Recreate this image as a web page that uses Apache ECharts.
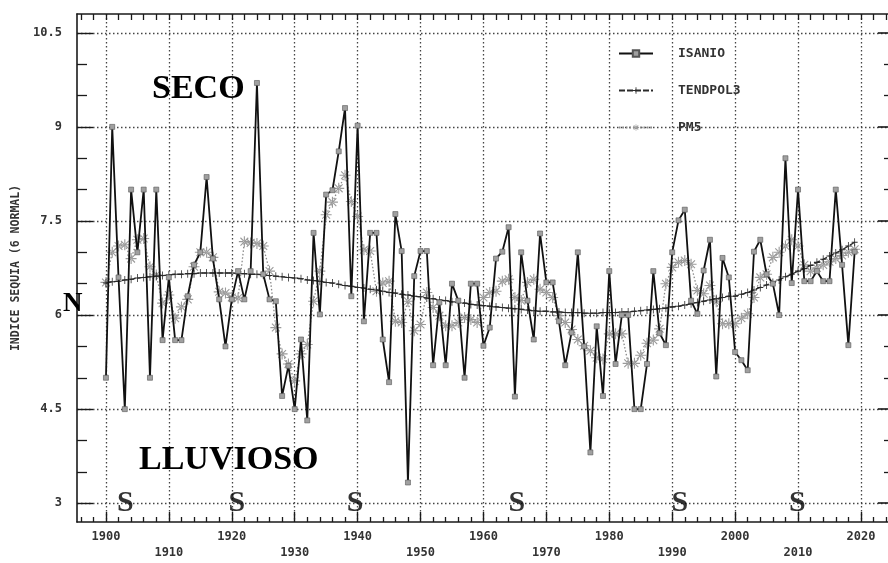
<!DOCTYPE html>
<html>
<head>
<meta charset="utf-8">
<script src="https://cdn.jsdelivr.net/npm/echarts@6/dist/echarts.min.js"></script>
<style>
  html, body { margin: 0; padding: 0; background: #ffffff; }
  #chart { width: 888px; height: 563px; }
</style>
</head>
<body>
<div id="chart"></div>
<script>
// Annual drought index, 1900-2019
const firstYear = 1900;
const isanio = [
  5.0, 9.0, 6.6, 4.5, 8.0, 7.0, 8.0, 5.0, 8.0, 5.6,
  6.6, 5.6, 5.6, 6.3, 6.8, 7.0, 8.2, 6.9, 6.25, 5.5,
  6.25, 6.7, 6.25, 6.7, 9.7, 6.65, 6.25, 6.22, 4.71, 5.19,
  4.5, 5.61, 4.32, 7.31, 6.01, 7.92, 7.99, 8.61, 9.30, 6.30,
  9.02, 5.90, 7.31, 7.31, 5.61, 4.93, 7.61, 7.02, 3.33, 6.62,
  7.02, 7.02, 5.2, 6.2, 5.2, 6.5, 6.23, 5.0, 6.5, 6.5,
  5.51, 5.8, 6.9, 7.01, 7.4, 4.7, 7.0, 6.23, 5.61, 7.3,
  6.52, 6.52, 5.9, 5.2, 5.72, 7.0, 5.5, 3.81, 5.82, 4.71,
  6.7, 5.22, 6.0, 6.0, 4.5, 4.5, 5.22, 6.7, 5.71, 5.52,
  7.0, 7.51, 7.68, 6.23, 6.02, 6.71, 7.2, 5.02, 6.91, 6.6,
  5.41, 5.28, 5.12, 7.01, 7.2, 6.65, 6.5, 6.0, 8.5, 6.51,
  8.0, 6.54, 6.54, 6.7, 6.54, 6.54, 8.0, 6.8, 5.52, 7.01
];
// Third-degree polynomial trend
const tendpol3 = [
  6.51, 6.53, 6.54, 6.56, 6.57, 6.59, 6.60, 6.61, 6.62, 6.63,
  6.64, 6.65, 6.65, 6.66, 6.66, 6.67, 6.67, 6.67, 6.67, 6.67,
  6.67, 6.66, 6.66, 6.65, 6.65, 6.64, 6.63, 6.62, 6.61, 6.60,
  6.59, 6.58, 6.56, 6.55, 6.54, 6.52, 6.51, 6.49, 6.47, 6.46,
  6.44, 6.43, 6.41, 6.40, 6.38, 6.36, 6.35, 6.33, 6.32, 6.30,
  6.29, 6.27, 6.26, 6.24, 6.23, 6.21, 6.20, 6.19, 6.17, 6.16,
  6.15, 6.14, 6.13, 6.12, 6.11, 6.10, 6.09, 6.08, 6.07, 6.06,
  6.06, 6.05, 6.05, 6.04, 6.04, 6.04, 6.03, 6.03, 6.03, 6.04,
  6.04, 6.04, 6.05, 6.05, 6.06, 6.07, 6.08, 6.09, 6.10, 6.11,
  6.13, 6.14, 6.16, 6.18, 6.20, 6.22, 6.24, 6.26, 6.28, 6.30,
  6.30, 6.33, 6.36, 6.40, 6.44, 6.48, 6.52, 6.56, 6.61, 6.65,
  6.70, 6.74, 6.79, 6.84, 6.89, 6.94, 6.99, 7.04, 7.10, 7.16
];
// Five-year moving mean
const pm5 = [
  6.52, 7.0, 7.1, 7.12, 6.9, 7.2, 7.22, 6.77, 6.64, 6.19,
  6.32, 5.95, 6.13, 6.25, 6.77, 7.0, 7.0, 6.92, 6.37, 6.35,
  6.28, 6.27, 7.17, 7.15, 7.14, 7.1, 6.7, 5.8, 5.38, 5.22,
  4.95, 5.38, 5.53, 6.22, 6.7, 7.6, 7.8, 8.02, 8.23, 7.81,
  7.57, 7.04, 7.02, 6.38, 6.51, 6.54, 5.9, 5.88, 6.22, 5.75,
  5.85, 6.36, 6.12, 5.99, 5.83, 5.83, 5.88, 5.96, 5.93, 5.88,
  6.28, 6.36, 6.38, 6.54, 6.57, 6.28, 6.23, 6.52, 6.57, 6.41,
  6.36, 6.28, 5.99, 5.88, 5.77, 5.61, 5.51, 5.43, 5.32, 5.3,
  5.7, 5.7, 5.7, 5.23, 5.23, 5.36, 5.55, 5.6, 5.78, 6.5,
  6.76, 6.84, 6.87, 6.81, 6.39, 6.34, 6.47, 6.21, 5.86, 5.86,
  5.86, 5.95, 6.02, 6.28, 6.6, 6.65, 6.92, 7.0, 7.1, 7.2,
  7.1, 6.8, 6.7, 6.75, 6.8, 6.85, 6.9, 6.95, 7.0, 7.05
];
// Years flagged with "S" along the bottom
const sYears = [1903.1, 1920.8, 1939.6, 1965.3, 1991.2, 2009.9];
const sLevel = 3;

const seriesNames = ['ISANIO', 'TENDPOL3', 'PM5'];
const yMajor = [3, 4.5, 6, 7.5, 9, 10.5];
const yMinor = [3.5, 4, 5, 5.5, 6.5, 7, 8, 8.5, 9.5, 10];
const xMajor = [1900, 1910, 1920, 1930, 1940, 1950, 1960, 1970, 1980, 1990, 2000, 2010, 2020];
const xMinor = [];
for (let y = 1896; y <= 2024; y += 2) if (y % 10 !== 0) xMinor.push(y);
const xAll = xMinor.concat(xMajor).sort((a, b) => a - b);

const toPairs = arr => arr.map((v, i) => [firstYear + i, v]);

const monoFont = 'DejaVu Sans Mono';
const ink = '#1a1a1a';
const gridDots = { color: '#444', width: 1.3, type: [1.5, 2.5] };

const plusPath = 'path://M-1,-0.13L1,-0.13L1,0.13L-1,0.13Z M-0.13,-1L0.13,-1L0.13,1L-0.13,1Z';
const starPath = 'path://M-1,-0.1L1,-0.1L1,0.1L-1,0.1Z M-0.1,-1L0.1,-1L0.1,1L-0.1,1Z ' +
  'M-0.78,-0.64L0.64,0.78L0.78,0.64L-0.64,-0.78Z M0.64,-0.78L0.78,-0.64L-0.64,0.78L-0.78,0.64Z';

// the plot frame runs past the right edge of the page
const xRange = { min: 1895.4, max: 2024.3 };
const yRange = { min: 2.7, max: 10.8 };

const chart = echarts.init(document.getElementById('chart'), null, { renderer: 'canvas' });

chart.setOption({
  backgroundColor: '#ffffff',
  animation: false,
  grid: { left: 77, top: 14, width: 811, height: 508, containLabel: false },
  legend: {
    data: seriesNames,
    orient: 'vertical',
    left: 613,
    top: 42,
    itemWidth: 34,
    itemHeight: 8,
    itemGap: 24,
    textStyle: { fontFamily: monoFont, fontSize: 13, fontWeight: 'bold', color: '#333', padding: [0, 0, 0, 20] }
  },
  xAxis: [
    {
      type: 'value', position: 'bottom', ...xRange,
      axisLine: { show: true, lineStyle: { color: ink, width: 1.6 } },
      axisTick: { show: true, inside: true, length: 10, customValues: xMajor, lineStyle: { color: ink, width: 1.4 } },
      axisLabel: {
        show: true, customValues: xMajor, margin: 7,
        fontFamily: monoFont, fontSize: 12, fontWeight: 'bold', color: '#333', lineHeight: 16,
        formatter: v => (v % 20 === 0 ? String(v) : '\n' + v)
      },
      splitLine: { show: true, lineStyle: gridDots }
    },
    {
      type: 'value', position: 'bottom', ...xRange,
      axisLine: { show: false },
      axisTick: { show: true, inside: true, length: 5, customValues: xMinor, lineStyle: { color: ink, width: 1.3 } },
      axisLabel: { show: false },
      splitLine: { show: false }
    },
    {
      type: 'value', position: 'top', ...xRange,
      axisLine: { show: true, lineStyle: { color: ink, width: 1.6 } },
      axisTick: { show: true, inside: true, length: 6, customValues: xAll, lineStyle: { color: ink, width: 1.3 } },
      axisLabel: { show: false },
      splitLine: { show: false }
    }
  ],
  yAxis: [
    {
      type: 'value', position: 'left', ...yRange,
      name: 'INDICE SEQUIA (6 NORMAL)', nameLocation: 'middle', nameGap: 55, nameRotate: 90,
      nameTextStyle: { fontFamily: monoFont, fontSize: 11.5, fontWeight: 'bold', color: '#333' },
      axisLine: { show: true, lineStyle: { color: ink, width: 1.6 } },
      axisTick: { show: true, inside: true, length: 16, customValues: yMajor, lineStyle: { color: ink, width: 1.4 } },
      axisLabel: { show: true, customValues: yMajor, margin: 15, fontFamily: monoFont, fontSize: 12, fontWeight: 'bold', color: '#333' },
      splitLine: { show: true, lineStyle: gridDots }
    },
    {
      type: 'value', position: 'left', ...yRange,
      axisLine: { show: false },
      axisTick: { show: true, inside: true, length: 10, customValues: yMinor, lineStyle: { color: ink, width: 1.3 } },
      axisLabel: { show: false },
      splitLine: { show: false }
    },
    {
      type: 'value', position: 'right', ...yRange,
      axisLine: { show: false },
      axisTick: { show: true, inside: true, length: 10, customValues: yMajor, lineStyle: { color: ink, width: 1.6 } },
      axisLabel: { show: false },
      splitLine: { show: false }
    },
    {
      type: 'value', position: 'right', ...yRange,
      axisLine: { show: false },
      axisTick: { show: true, inside: true, length: 4, customValues: yMinor, lineStyle: { color: ink, width: 1.3 } },
      axisLabel: { show: false },
      splitLine: { show: false }
    }
  ],
  series: [
    {
      name: 'PM5', type: 'line', data: toPairs(pm5), z: 3,
      symbol: starPath, symbolSize: 11, showAllSymbol: true,
      lineStyle: { color: '#8a8a8a', width: 1.3, type: [1.5, 2] },
      itemStyle: { color: '#9a9a9a' }
    },
    {
      name: 'TENDPOL3', type: 'line', data: toPairs(tendpol3), z: 4,
      symbol: plusPath, symbolSize: [6, 8], showAllSymbol: true,
      lineStyle: { color: '#2a2a2a', width: 1.3, type: [6, 2] },
      itemStyle: { color: '#2a2a2a' }
    },
    {
      name: 'ISANIO', type: 'line', data: toPairs(isanio), z: 5,
      symbol: 'rect', symbolSize: 5, showAllSymbol: true,
      lineStyle: { color: '#111', width: 1.8 },
      itemStyle: { color: '#a0a0a0', borderColor: '#555', borderWidth: 0.6 }
    },
    {
      name: 'S', type: 'scatter', z: 6, silent: true,
      data: sYears.map(y => [y, sLevel]),
      symbolSize: 1, itemStyle: { color: 'rgba(0,0,0,0)' },
      label: {
        show: true, position: 'inside', formatter: 'S',
        fontFamily: 'Liberation Serif', fontWeight: 'bold', fontSize: 30, color: '#000'
      }
    }
  ],
  graphic: [
    { type: 'text', left: 152, top: 72, z: 10,
      style: { text: 'SECO', fontFamily: 'Liberation Serif', fontWeight: 'bold', fontSize: 34, fill: '#000' } },
    { type: 'text', left: 139, top: 443, z: 10,
      style: { text: 'LLUVIOSO', fontFamily: 'Liberation Serif', fontWeight: 'bold', fontSize: 34, fill: '#000' } },
    { type: 'text', left: 63, top: 291, z: 10,
      style: { text: 'N', fontFamily: 'Liberation Serif', fontWeight: 'bold', fontSize: 27, fill: '#000' } }
  ]
});
</script>
</body>
</html>
